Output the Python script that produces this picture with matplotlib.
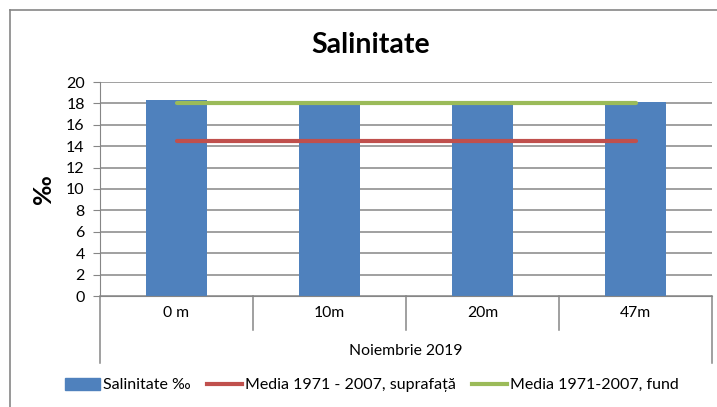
#!/usr/bin/env python3
"""Salinity bar chart with long-term mean lines."""
import numpy as np
import matplotlib
matplotlib.use('Agg')
import matplotlib.pyplot as plt
from matplotlib.lines import Line2D
from matplotlib.patches import Patch

plt.rcParams['font.family'] = ['Lato', 'DejaVu Sans']

depths = ['0 m', '10m', '20m', '47m']
group_label = 'Noiembrie 2019'
salinity = [18.32, 17.87, 17.87, 18.10]
mean_surface = [14.45, 14.45, 14.45, 14.45]
mean_bottom = [18.0, 18.0, 18.0, 18.0]
yticks = np.arange(0, 21, 2)

W, H = 717, 407
fig = plt.figure(figsize=(W / 100, H / 100), dpi=100)

# outer chart frame (only top/left visible in the crop)
fig.add_artist(Line2D([10 / W, 10 / W], [0, 1 - 10 / H], color='#868686', lw=1.2))
fig.add_artist(Line2D([10 / W, 1], [1 - 10 / H, 1 - 10 / H], color='#868686', lw=1.2))

left, right, top, bottom = 100, 712, 82, 296
ax = fig.add_axes([left / W, 1 - bottom / H, (right - left) / W, (bottom - top) / H])

x = np.arange(len(depths))
ax.bar(x, salinity, width=0.4, color='#4F81BD', zorder=2)
ax.plot(x, mean_surface, color='#C0504D', lw=3, solid_capstyle='round', zorder=3)
ax.plot(x, mean_bottom, color='#9BBB59', lw=3, solid_capstyle='round', zorder=3)

ax.set_xlim(-0.5, len(depths) - 0.5)
ax.set_ylim(0, 20)
ax.set_yticks(yticks)
ax.tick_params(axis='y', length=5, color='#868686', labelsize=11.5, pad=6)
ax.tick_params(axis='x', length=0, labelbottom=False)
ax.grid(axis='y', color='#868686', lw=1.1, zorder=0)
for s in ['top', 'right']:
    ax.spines[s].set_visible(False)
ax.spines['left'].set_color('#868686')
ax.spines['bottom'].set_color('#868686')
ax.set_ylabel('‰', fontsize=18, fontweight='bold', labelpad=8)

# multi-level category axis
trans = ax.get_xaxis_transform()
cat_drop = (330 - bottom) / (bottom - top)
grp_drop = (363 - bottom) / (bottom - top)
for b in np.arange(-0.5, len(depths) + 0.5, 1.0):
    depth = grp_drop if b in (-0.5, len(depths) - 0.5) else cat_drop
    ax.plot([b, b], [0, -depth], transform=trans, color='#868686', lw=1.1, clip_on=False)
for xi, lab in zip(x, depths):
    ax.text(xi, -(313 - bottom) / (bottom - top), lab, transform=trans,
            ha='center', va='center', fontsize=11.3)
ax.text((len(depths) - 1) / 2, -(351 - bottom) / (bottom - top), group_label,
        transform=trans, ha='center', va='center', fontsize=11.3)

fig.text(371 / W, 1 - 45 / H, 'Salinitate', ha='center', va='center',
         fontsize=20.5, fontweight='bold')

handles = [Patch(color='#4F81BD', label='Salinitate ‰'),
           Line2D([], [], color='#C0504D', lw=3, label='Media 1971 - 2007, suprafață'),
           Line2D([], [], color='#9BBB59', lw=3, label='Media 1971-2007, fund')]
fig.legend(handles=handles, loc='center', bbox_to_anchor=(372 / W, 1 - 385 / H),
           ncol=3, frameon=False, fontsize=11.5, handlelength=2.2,
           handleheight=0.8, handletextpad=0.2, columnspacing=1.0)

fig.savefig('out.png', dpi=100)
